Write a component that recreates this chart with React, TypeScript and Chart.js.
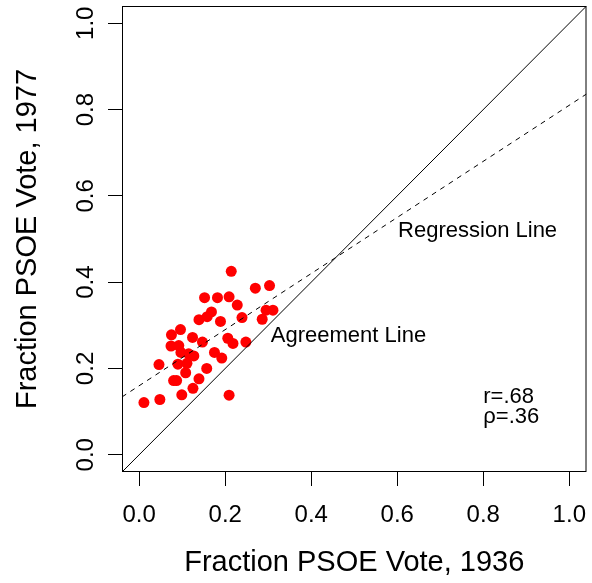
import React, { useEffect, useRef } from "react";
import { Chart, registerables } from "chart.js";

Chart.register(...registerables);

// Fraction PSOE vote by district
const X_1936 = [
  0.214, 0.27, 0.303, 0.152, 0.182, 0.209, 0.228, 0.168, 0.158, 0.139,
  0.189, 0.239, 0.295, 0.311, 0.286, 0.096, 0.075, 0.124, 0.147, 0.206,
  0.218, 0.248, 0.074, 0.092, 0.097, 0.115, 0.127, 0.175, 0.192, 0.046,
  0.09, 0.111, 0.108, 0.157, 0.08, 0.087, 0.139, 0.125, 0.099, 0.048,
  0.011, 0.209,
];
const Y_1977 = [
  0.425, 0.386, 0.392, 0.364, 0.364, 0.366, 0.347, 0.331, 0.32, 0.313,
  0.309, 0.318, 0.335, 0.335, 0.314, 0.29, 0.278, 0.272, 0.261, 0.27,
  0.258, 0.261, 0.252, 0.253, 0.237, 0.234, 0.229, 0.237, 0.224, 0.209,
  0.21, 0.212, 0.19, 0.2, 0.172, 0.172, 0.176, 0.154, 0.139, 0.128,
  0.121, 0.138,
];

const AXIS_TICKS = [0, 0.2, 0.4, 0.6, 0.8, 1.0];
const AXIS_MIN = -0.04;
const AXIS_MAX = 1.04;

const REG_INTERCEPT = 0.16;
const REG_SLOPE = 0.65;

const X_TITLE = "Fraction PSOE Vote, 1936";
const Y_TITLE = "Fraction PSOE Vote, 1977";

const NOTE_TEXT = ["Regression Line", "Agreement Line", "r=.68", "ρ=.36"];
const NOTE_X = [0.602, 0.306, 0.8, 0.8];
const NOTE_Y = [0.504, 0.262, 0.12, 0.0735];

const FONT = "'Liberation Sans', Arial, Helvetica, sans-serif";

export default function App() {
  const canvasRef = useRef<HTMLCanvasElement | null>(null);

  useEffect(() => {
    const canvas = canvasRef.current;
    if (!canvas) return;

    const points = X_1936.map((x, i) => ({ x, y: Y_1977[i] }));
    const ends = [AXIS_MIN, AXIS_MAX];

    const boxPlugin = {
      id: "boxAndNotes",
      afterDraw(chart: any) {
        const { ctx, chartArea, scales } = chart;
        ctx.save();
        ctx.strokeStyle = "#000";
        ctx.lineWidth = 1;
        ctx.strokeRect(
          chartArea.left + 0.5,
          chartArea.top + 0.5,
          chartArea.right - chartArea.left - 1,
          chartArea.bottom - chartArea.top - 1
        );
        ctx.fillStyle = "#000";
        ctx.font = `22px ${FONT}`;
        ctx.textAlign = "left";
        ctx.textBaseline = "alphabetic";
        NOTE_TEXT.forEach((t, i) => {
          ctx.fillText(
            t,
            scales.x.getPixelForValue(NOTE_X[i]),
            scales.y.getPixelForValue(NOTE_Y[i])
          );
        });
        ctx.restore();
      },
    };

    const setTicks = (axis: any) => {
      axis.ticks = AXIS_TICKS.map((v) => ({ value: v }));
    };
    const noPad = (s: any) => {
      s.paddingLeft = 0;
      s.paddingRight = 0;
      s.paddingTop = 0;
      s.paddingBottom = 0;
    };

    const chart = new Chart(canvas, {
      type: "scatter",
      data: {
        datasets: [
          {
            type: "line",
            label: "Agreement Line",
            data: ends.map((v) => ({ x: v, y: v })),
            borderColor: "#000",
            borderWidth: 1,
            pointRadius: 0,
            fill: false,
            tension: 0,
          } as any,
          {
            type: "line",
            label: "Regression Line",
            data: ends.map((x) => ({ x, y: REG_INTERCEPT + REG_SLOPE * x })),
            borderColor: "#000",
            borderWidth: 1,
            borderDash: [5, 5],
            pointRadius: 0,
            fill: false,
            tension: 0,
          } as any,
          {
            type: "scatter",
            label: "Districts",
            data: points,
            backgroundColor: "#ff0000",
            borderWidth: 0,
            pointRadius: 5.5,
            pointHoverRadius: 5.5,
          } as any,
        ],
      },
      options: {
        responsive: false,
        animation: false,
        events: [],
        layout: { padding: { top: 6, right: 4, left: 0, bottom: 0 } },
        plugins: {
          legend: { display: false },
          tooltip: { enabled: false },
        },
        scales: {
          x: {
            type: "linear",
            min: AXIS_MIN,
            max: AXIS_MAX,
            afterBuildTicks: setTicks,
            afterFit: (s: any) => {
              s.height = 111;
              noPad(s);
            },
            grid: {
              drawOnChartArea: false,
              drawTicks: true,
              tickLength: 14,
              color: "#000",
              lineWidth: 1,
            },
            border: { display: false },
            ticks: {
              autoSkip: false,
              color: "#000",
              padding: 17,
              maxRotation: 0,
              minRotation: 0,
              font: { family: FONT, size: 24, lineHeight: 1 },
              callback: (v: any) => Number(v).toFixed(1),
            },
            title: {
              display: true,
              text: X_TITLE,
              color: "#000",
              font: { family: FONT, size: 29, lineHeight: 1 },
              padding: { top: 0, bottom: 5.5 },
            },
          },
          y: {
            type: "linear",
            min: AXIS_MIN,
            max: AXIS_MAX,
            afterBuildTicks: setTicks,
            afterFit: (s: any) => {
              s.width = 122;
              noPad(s);
            },
            grid: {
              drawOnChartArea: false,
              drawTicks: true,
              tickLength: 14,
              color: "#000",
              lineWidth: 1,
            },
            border: { display: false },
            ticks: {
              autoSkip: false,
              color: "#000",
              padding: 5,
              minRotation: 90,
              maxRotation: 90,
              crossAlign: "center",
              font: { family: FONT, size: 24, lineHeight: 1 },
              callback: (v: any) => Number(v).toFixed(1),
            },
            title: {
              display: true,
              text: Y_TITLE,
              color: "#000",
              font: { family: FONT, size: 29, lineHeight: 1 },
              padding: { top: 13, bottom: 0 },
            },
          },
        },
      },
      plugins: [boxPlugin],
    } as any);

    return () => {
      chart.destroy();
    };
  }, []);

  return (
    <div style={{ position: "absolute", left: 0, top: 0, width: 592, height: 583, background: "#fff" }}>
      <canvas ref={canvasRef} width={592} height={583} style={{ display: "block" }} />
    </div>
  );
}
